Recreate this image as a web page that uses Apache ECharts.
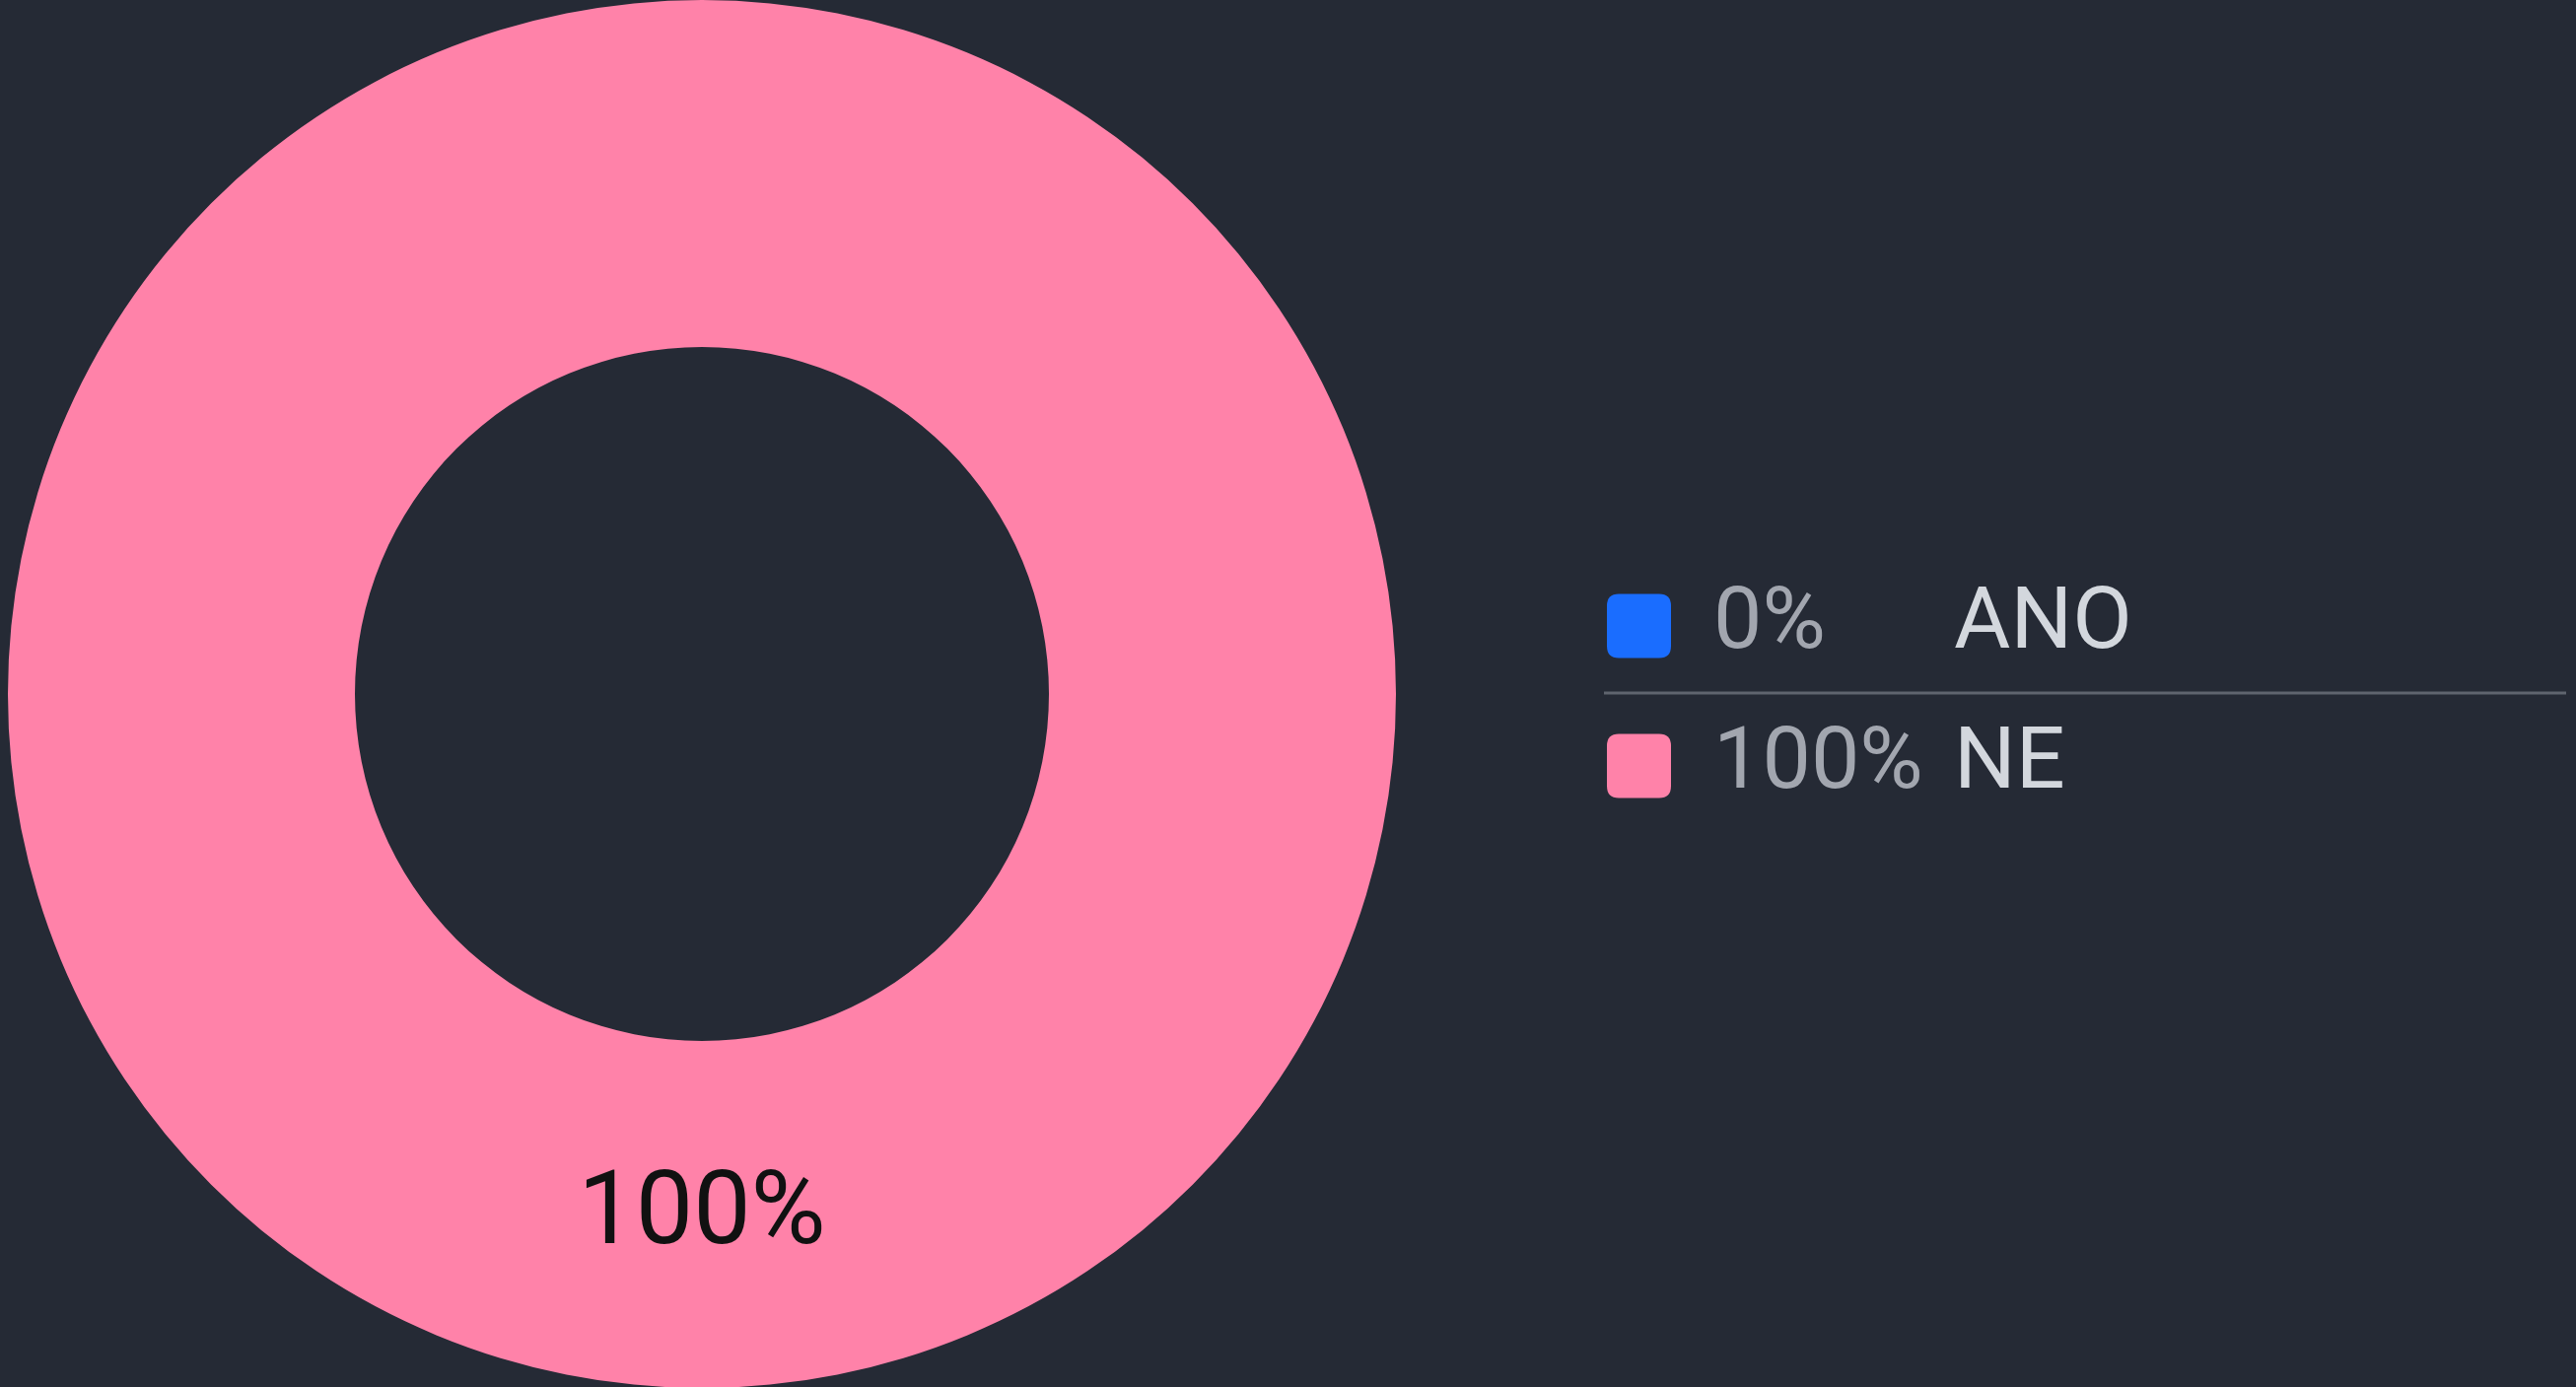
<!DOCTYPE html>
<html>
<head>
<meta charset="utf-8">
<title>ANO / NE</title>
<script src="https://cdn.jsdelivr.net/npm/echarts@6/dist/echarts.min.js"></script>
<style>
  html, body { margin: 0; padding: 0; background: #252a35; }
  #chart { width: 2613px; height: 1407px; }
</style>
</head>
<body>
<div id="chart"></div>
<script>
  // data
  var categories = ['ANO', 'NE'];
  var values = [0, 100];
  var colors = ['#1a6dff', '#ff82a9'];

  var total = values.reduce(function (a, b) { return a + b; }, 0);
  function pctOf(name) {
    var i = categories.indexOf(name);
    return Math.round(values[i] / total * 100) + '%';
  }

  var chart = echarts.init(document.getElementById('chart'));

  var option = {
    backgroundColor: '#252a35',
    animation: false,
    color: colors,
    legend: {
      orient: 'vertical',
      left: 1625,
      top: 586,
      itemWidth: 65,
      itemHeight: 65,
      itemGap: 54,
      icon: 'path://M12,0 L53,0 Q65,0 65,12 L65,53 Q65,65 53,65 L12,65 Q0,65 0,53 L0,12 Q0,0 12,0 Z',
      selectedMode: false,
      data: categories,
      formatter: function (name) {
        return '{pct|' + pctOf(name) + '}{name|' + name + '}';
      },
      textStyle: {
        fontFamily: 'Roboto',
        fontSize: 88,
        lineHeight: 65,
        rich: {
          pct: {
            fontFamily: 'Roboto',
            fontSize: 88,
            lineHeight: 65,
            color: '#a2a6af',
            width: 244,
            padding: [0, 0, 0, 38]
          },
          name: {
            fontFamily: 'Roboto',
            fontSize: 88,
            lineHeight: 65,
            color: '#d3d7dd'
          }
        }
      }
    },
    graphic: [{
      // oddělovač mezi řádky legendy
      type: 'line',
      shape: { x1: 1627, y1: 703, x2: 2603, y2: 703 },
      style: { stroke: '#5f646e', lineWidth: 3 },
      silent: true
    }],
    series: [{
      type: 'pie',
      center: [712, 704],
      radius: [352, 704],
      startAngle: 90,
      clockwise: true,
      silent: true,
      label: {
        show: true,
        position: 'inside',
        fontFamily: 'Roboto',
        fontSize: 104,
        color: '#111111',
        formatter: function (p) {
          return p.value > 0 ? Math.round(p.percent) + '%' : '';
        }
      },
      labelLine: { show: false },
      itemStyle: { borderWidth: 0 },
      data: categories.map(function (c, i) {
        return { name: c, value: values[i] };
      })
    }]
  };

  chart.setOption(option);
</script>
</body>
</html>
